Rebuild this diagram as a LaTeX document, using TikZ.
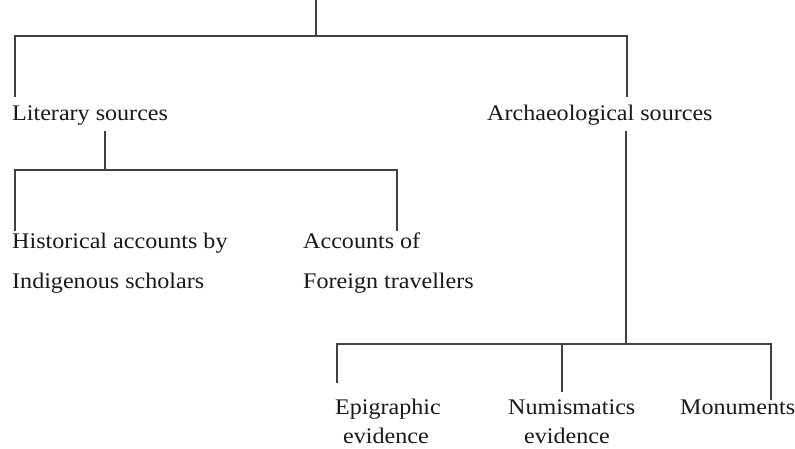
\documentclass[tikz,border=0pt]{standalone}
\usepackage{fontspec}
\setmainfont{Liberation Serif}
\newcommand\txw[1]{\scalebox{1.08}[1]{#1}}
\begin{document}
\begin{tikzpicture}[x=1pt,y=-1pt,
  lbl/.style={anchor=base west,inner sep=0pt,text=black!90,font=\fontsize{22.3}{24}\selectfont},
  conn/.style={line width=1.1pt,draw=black!75}]
\useasboundingbox (0,0) rectangle (795,448);
\fill[white] (0,0) rectangle (795,448);
% labels
\node[lbl] (lit) at (12,120) {\txw{Literary sources}};
\node[lbl] (arch) at (487,120) {\txw{Archaeological sources}};
\node[lbl] (hist) at (12,248) {\txw{Historical accounts by}};
\node[lbl] (hist2) at (12,288) {\txw{Indigenous scholars}};
\node[lbl] (acc) at (303,248) {\txw{Accounts of}};
\node[lbl] (acc2) at (303,288) {\txw{Foreign travellers}};
\node[lbl] (epi) at (335,414) {\txw{Epigraphic}};
\node[lbl] (epi2) at (343,443) {\txw{evidence}};
\node[lbl] (num) at (508,414) {\txw{Numismatics}};
\node[lbl] (num2) at (524,443) {\txw{evidence}};
\node[lbl] (mon) at (680,414) {\txw{Monuments}};
% junctions
\coordinate (t0) at (316,0);
\coordinate (t1) at (316,36);
\coordinate (tl) at (15,97);
\coordinate (tr) at (627,97);
\coordinate (l0) at (105,131);
\coordinate (l1) at (105,170);
\coordinate (ll) at (15,231);
\coordinate (lr) at (397,231);
\coordinate (a0) at (626,131);
\coordinate (a1) at (626,344);
\coordinate (al) at (337,383);
\coordinate (am) at (562,392);
\coordinate (ar) at (771,400);
% connectors
\draw[conn] (t0) -- (t1);
\draw[conn] (tl) |- (t1) -| (tr);
\draw[conn] (l0) -- (l1);
\draw[conn] (ll) |- (l1) -| (lr);
\draw[conn] (a0) -- (a1);
\draw[conn] (al) |- (a1) -| (ar);
\draw[conn] (am) -- (am |- a1);
\end{tikzpicture}
\end{document}
